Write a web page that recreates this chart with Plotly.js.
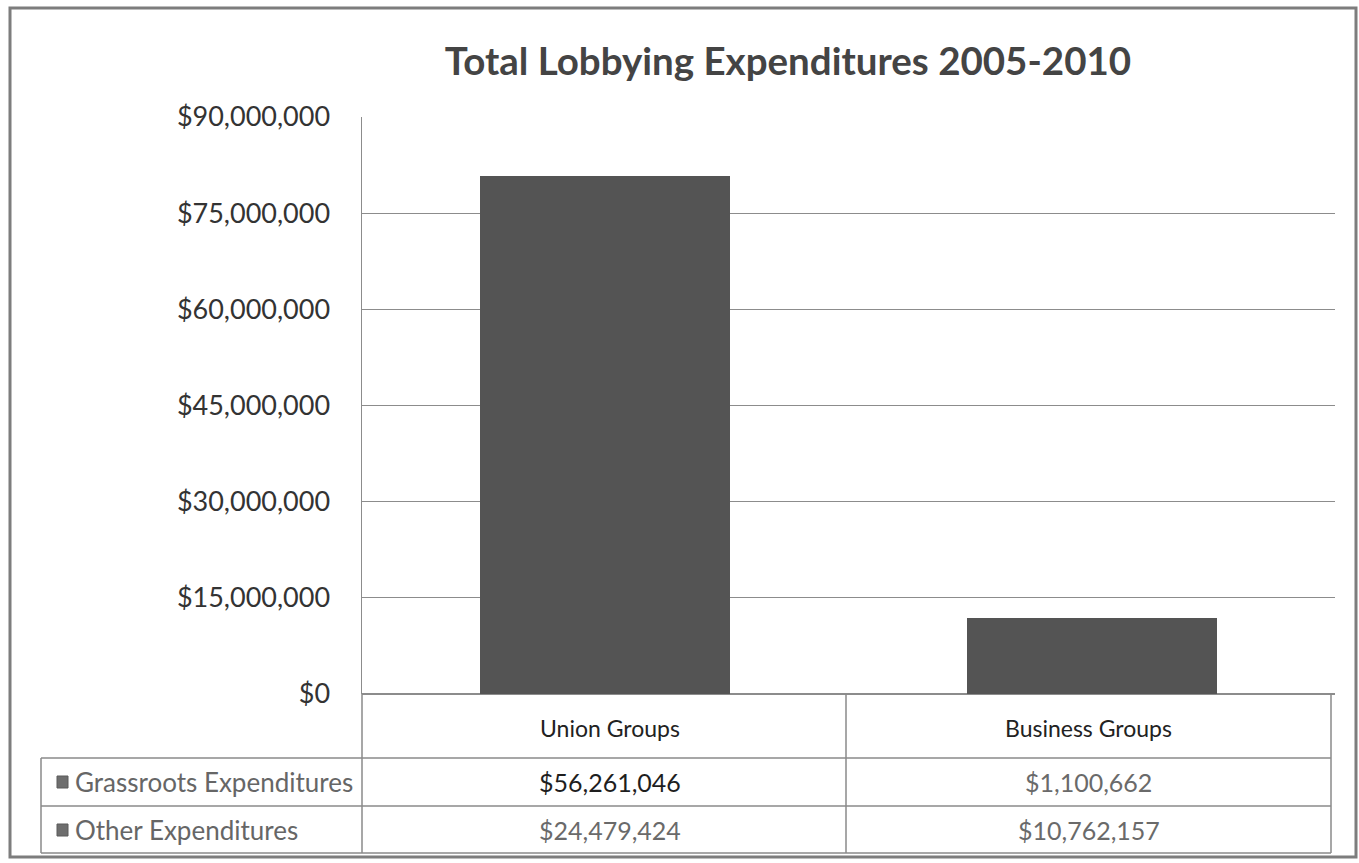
<!DOCTYPE html>
<html>
<head>
<meta charset="utf-8">
<script src="https://cdn.plot.ly/plotly-3.0.1.min.js"></script>
<style>
  html, body { margin: 0; padding: 0; background: #ffffff; }
  #chart { width: 1359px; height: 863px; }
</style>
</head>
<body>
<div id="chart"></div>
<script>
// ---- Data ----
const categories = ["Union Groups", "Business Groups"];
const seriesNames = ["Grassroots Expenditures", "Other Expenditures"];
const grassroots = [56261046, 1100662];
const other = [24479424, 10762157];
const yTickVals = [0, 15000000, 30000000, 45000000, 60000000, 75000000, 90000000];
const yTickText = ["$0", "$15,000,000", "$30,000,000", "$45,000,000", "$60,000,000", "$75,000,000", "$90,000,000"];
const chartTitle = "Total Lobbying Expenditures 2005-2010";

// ---- Geometry (pixels) ----
const W = 1359, H = 863;
const L = 362, R = 1335, T = 117, B = 694;
const tableRight = 1331, legendLeft = 41, colDiv = 846;
const rowLines = [758, 806, 853];
const FONT = "Lato, 'Open Sans', sans-serif";
const barColor = "#545454";

const px = x => (x - L) / (R - L);
const py = y => (B - y) / (B - T);

function fmt(v) { return "$" + v.toLocaleString("en-US"); }

const traces = [
  { type: "bar", name: seriesNames[0], x: categories, y: grassroots,
    marker: { color: barColor, line: { width: 0 } }, hoverinfo: "x+y+name" },
  { type: "bar", name: seriesNames[1], x: categories, y: other,
    marker: { color: barColor, line: { width: 0 } }, hoverinfo: "x+y+name" }
];

const lineCol = "#8a8a8a";
const shapes = [];
function hline(y, x0, x1, w) {
  shapes.push({ type: "line", xref: "paper", yref: "paper", x0: px(x0), x1: px(x1), y0: py(y), y1: py(y),
    line: { color: lineCol, width: w || 1.5 } });
}
function vline(x, y0, y1, w) {
  shapes.push({ type: "line", xref: "paper", yref: "paper", x0: px(x), x1: px(x), y0: py(y0), y1: py(y1),
    line: { color: lineCol, width: w || 1.5 } });
}
// table grid
rowLines.forEach(y => hline(y, legendLeft, tableRight));
vline(legendLeft, rowLines[0], rowLines[2]);
vline(L, B, rowLines[2]);
vline(colDiv, B, rowLines[2]);
vline(tableRight, B, rowLines[2]);
// outer frame
shapes.push({ type: "rect", xref: "paper", yref: "paper", x0: px(10), x1: px(1356), y0: py(8), y1: py(857),
  line: { color: "#7d7d7d", width: 3 }, fillcolor: "rgba(0,0,0,0)" });

// legend icons
const iconY = [782, 830];
iconY.forEach(y => {
  shapes.push({ type: "rect", xref: "paper", yref: "paper", x0: px(57), x1: px(68), y0: py(y - 6), y1: py(y + 6),
    line: { color: "#5a5a5a", width: 1 }, fillcolor: "#6e6e6e" });
});

const colCenters = [(L + colDiv) / 2 + 6, (colDiv + tableRight) / 2];
const headerY = (B + rowLines[0]) / 2 + 2;
const rowY = [(rowLines[0] + rowLines[1]) / 2, (rowLines[1] + rowLines[2]) / 2];
const rowValues = [grassroots, other];

const annotations = [];
categories.forEach((c, i) => {
  annotations.push({ xref: "paper", yref: "paper", x: px(colCenters[i]), y: py(headerY), text: c, showarrow: false,
    xanchor: "center", yanchor: "middle", font: { family: FONT, size: 23, color: "#222222" } });
});
seriesNames.forEach((s, r) => {
  annotations.push({ xref: "paper", yref: "paper", x: px(73), y: py(rowY[r]), text: s, showarrow: false,
    xanchor: "left", yanchor: "middle", font: { family: FONT, size: 26, color: "#666666" } });
  rowValues[r].forEach((v, i) => {
    const dark = (r === 0 && i === 0);
    annotations.push({ xref: "paper", yref: "paper", x: px(colCenters[i]), y: py(rowY[r]), text: fmt(v), showarrow: false,
      xanchor: "center", yanchor: "middle",
      font: { family: FONT, size: 25, color: dark ? "#1e1e1e" : "#6a6a6a" } });
  });
});

const layout = {
  width: W, height: H,
  margin: { l: L, r: W - R, t: T, b: H - B, pad: 0 },
  paper_bgcolor: "#ffffff", plot_bgcolor: "#ffffff",
  barmode: "stack", bargap: 0.486,
  showlegend: false,
  title: { text: "<b>" + chartTitle + "</b>", x: 0.5798, xanchor: "center", y: 1 - 62 / H, yanchor: "middle",
    font: { family: FONT, size: 38.5, color: "#444444" } },
  xaxis: { type: "category", range: [-0.5, 1.5], showticklabels: false, showgrid: false, zeroline: false,
    showline: false, ticks: "", fixedrange: true },
  yaxis: { range: [0, 90000000], tickmode: "array", tickvals: yTickVals, ticktext: yTickText,
    showgrid: true, gridcolor: "#8c8c8c", gridwidth: 1.2, zeroline: true, zerolinecolor: "#8c8c8c", zerolinewidth: 1.5,
    showline: true, linecolor: "#8c8c8c", linewidth: 1.5,
    ticks: "outside", ticklen: 25, tickcolor: "rgba(0,0,0,0)",
    tickfont: { family: FONT, size: 27, color: "#333333" }, fixedrange: true },
  shapes: shapes,
  annotations: annotations
};

Plotly.newPlot("chart", traces, layout, { displayModeBar: false, staticPlot: true });
</script>
</body>
</html>
